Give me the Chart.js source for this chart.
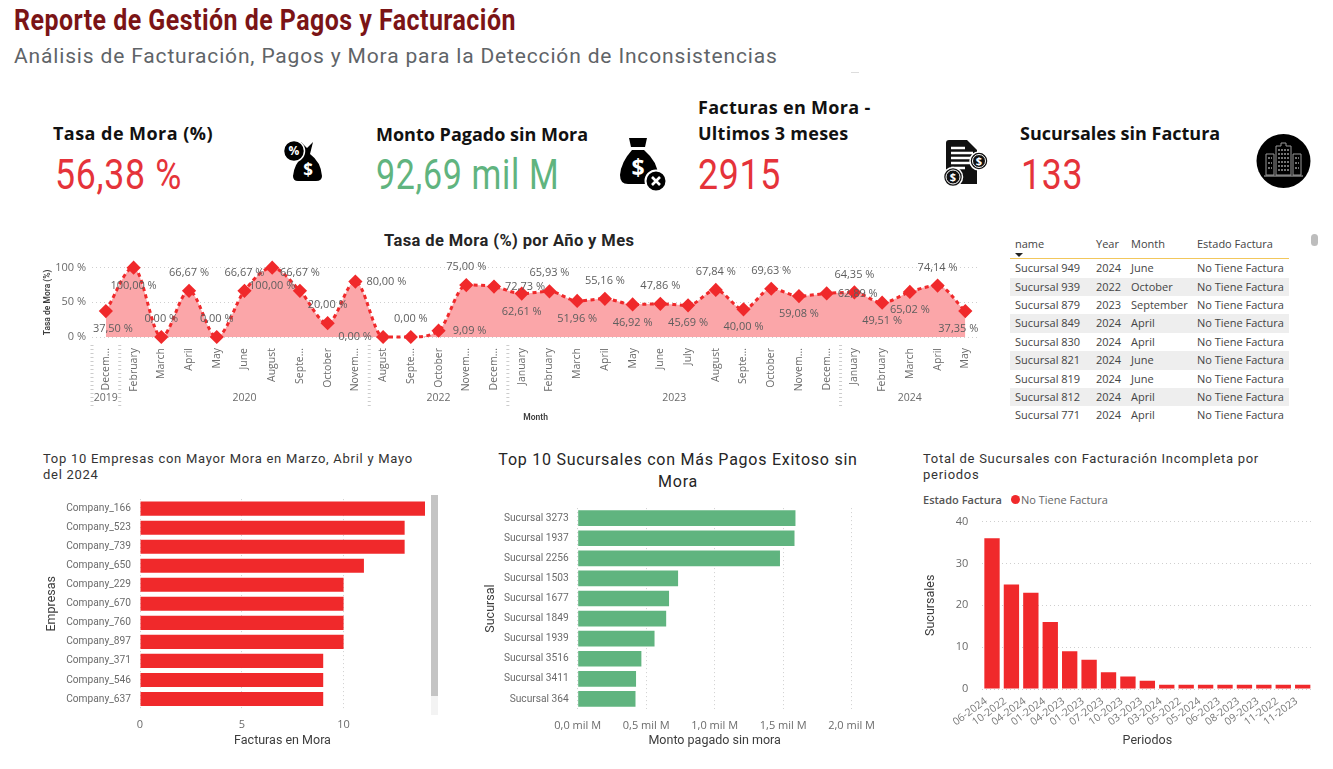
<!DOCTYPE html>
<html lang="es">
<head>
  <meta charset="UTF-8" />
  <title>Reporte de Gestión de Pagos y Facturación</title>
  <script src="https://cdn.jsdelivr.net/npm/chart.js"></script>
  <style>
    html, body { margin: 0; padding: 0; background: #fff; overflow: hidden; }
    body { width: 1333px; height: 769px; position: relative; font-family: "Open Sans", sans-serif; }
    .abs { position: absolute; white-space: nowrap; line-height: 1; }
    canvas { position: absolute; }
    #title { left: 14px; top: 3px; font: bold 29px Roboto, sans-serif; color: #7B1416; letter-spacing: .55px; transform: scaleX(.86); transform-origin: left; }
    #subtitle { left: 14px; top: 44px; font: 21px Roboto, sans-serif; color: #5f6468; letter-spacing: .84px; }
    .kpi-label { font-weight: 700; font-size: 18px; color: #111; }
    .kpi-value { font: 42px Roboto, sans-serif; letter-spacing: .8px; transform: scaleX(.85); transform-origin: left; }
    .chart-title { font: 13px Roboto, sans-serif; color: #333; letter-spacing: .72px; line-height: 16px; white-space: normal; }
    #table { position: absolute; left: 1010px; top: 235px; width: 279px; font-size: 11px; color: #444; }
    #table .row { position: absolute; left: 0; width: 279px; height: 18.4px; line-height: 18.4px; }
    #table .row span { position: absolute; top: 0; white-space: nowrap; }
    #table .shade { background: #eeeeee; }
  </style>
</head>
<body>
  <div class="abs" id="title">Reporte de Gestión de Pagos y Facturación</div>
  <div class="abs" id="subtitle">Análisis de Facturación, Pagos y Mora para la Detección de Inconsistencias</div>
  <div class="abs" style="left:851px;top:72px;width:8px;height:1px;background:#ddd"></div>

  <div class="abs kpi-label" style="left:53px;top:124px;letter-spacing:.45px">Tasa de Mora (%)</div>
  <div class="abs kpi-value" style="left:55px;top:150px;color:#E5333A">56,38 %</div>
  <div class="abs kpi-label" style="left:376px;top:125px">Monto Pagado sin Mora</div>
  <div class="abs kpi-value" style="left:376px;top:150px;color:#60B47F;transform:scaleX(.81)">92,69 mil M</div>
  <div class="abs kpi-label" style="left:698px;top:98px;letter-spacing:.3px">Facturas en Mora -</div>
  <div class="abs kpi-label" style="left:698px;top:124px;letter-spacing:.25px">Ultimos 3 meses</div>
  <div class="abs kpi-value" style="left:698px;top:150px;color:#E5333A">2915</div>
  <div class="abs kpi-label" style="left:1020px;top:124px">Sucursales sin Factura</div>
  <div class="abs kpi-value" style="left:1021px;top:150px;color:#E5333A">133</div>

  <!-- iconos -->
  <svg class="abs" style="left:283px;top:140px" width="40" height="42" viewBox="0 0 40 42">
    <path d="M18 2 L24 8 L30 2 L27 14 Q38 22 39 36 Q39 41 33 41 L15 41 Q10 41 10 36 Q11 24 21 15 Z" fill="#000"/>
    <circle cx="11" cy="11" r="10.5" fill="#000" stroke="#fff" stroke-width="1.5"/>
    <text x="11" y="15" font-size="12" font-weight="bold" fill="#fff" text-anchor="middle" font-family="Open Sans">%</text>
    <text x="25" y="36" font-size="17" font-weight="bold" fill="#fff" text-anchor="middle" font-family="Open Sans">$</text>
  </svg>
  <svg class="abs" style="left:620px;top:138px" width="48" height="54" viewBox="0 0 48 54">
    <path d="M9 0 H27 L25 9 H11 Z" fill="#000"/>
    <path d="M12 12 H24 Q38 24 38 38 Q38 46 28 46 H8 Q0 46 0 37 Q1 24 12 12 Z" fill="#000"/>
    <text x="18" y="38" font-size="23" font-weight="bold" fill="#fff" text-anchor="middle" font-family="Open Sans">$</text>
    <circle cx="36" cy="43" r="10.5" fill="#000" stroke="#fff" stroke-width="2"/>
    <path d="M32 39 L40 47 M40 39 L32 47" stroke="#fff" stroke-width="2.6"/>
  </svg>
  <svg class="abs" style="left:943px;top:140px" width="46" height="48" viewBox="0 0 46 48">
    <path d="M6 0 H24 L34 10 V44 H6 Q3 44 3 41 V3 Q3 0 6 0 Z" fill="#111"/>
    <path d="M8 8 H22 M8 13 H30 M8 18 H30 M8 23 H30 M8 28 H22 M8 33 H16" stroke="#fff" stroke-width="2.4"/>
    <circle cx="36" cy="21" r="9" fill="#111" stroke="#fff" stroke-width="1.5"/>
    <circle cx="36" cy="21" r="6.5" fill="none" stroke="#fff" stroke-width="1"/>
    <text x="36" y="25" font-size="11" font-weight="bold" fill="#fff" text-anchor="middle" font-family="Open Sans">$</text>
    <circle cx="10" cy="37" r="9.5" fill="#111" stroke="#fff" stroke-width="1.5"/>
    <circle cx="10" cy="37" r="7" fill="none" stroke="#fff" stroke-width="1"/>
    <text x="10" y="41" font-size="11" font-weight="bold" fill="#fff" text-anchor="middle" font-family="Open Sans">$</text>
  </svg>
  <svg class="abs" style="left:1256px;top:134px" width="55" height="54" viewBox="0 0 55 54">
    <ellipse cx="27.5" cy="27" rx="27" ry="27" fill="#000"/>
    <path d="M20 41 V12 H25 V9 H30 V12 H35 V41 Z M10 41 V20 H18 V41 Z M37 41 V20 H45 V41 Z" fill="none" stroke="#999" stroke-width="1"/>
    <path d="M22 16 H33 M22 20 H33 M22 24 H33 M22 28 H33 M22 32 H33 M22 36 H33 M12 24 H16 M12 29 H16 M12 34 H16 M39 24 H43 M39 29 H43 M39 34 H43" stroke="#999" stroke-width="1.4" stroke-dasharray="2 1"/>
    <path d="M8 42 H47" stroke="#bbb" stroke-width="1"/>
  </svg>

  <div class="abs" style="left:384px;top:231px;font:bold 16.5px Roboto,sans-serif;color:#252525;letter-spacing:.4px">Tasa de Mora (%) por Año y Mes</div>
  <canvas id="lineChart" style="left:40px;top:255px"></canvas>

  <div id="table"></div>
  <div class="abs" style="left:1311px;top:234px;width:7px;height:12px;border-radius:4px;background:#bdbdbd"></div>

  <div class="abs chart-title" style="left:43px;top:451px;width:380px">Top 10 Empresas con Mayor Mora en Marzo, Abril y Mayo del 2024</div>
  <canvas id="companyChart" style="left:40px;top:484px"></canvas>
  <div class="abs" style="left:431px;top:495px;width:7px;height:220px;background:#f3f3f3"></div>
  <div class="abs" style="left:431px;top:495px;width:7px;height:201px;background:#c4c4c4"></div>

  <div class="abs chart-title" style="left:492px;top:449px;width:372px;text-align:center;font-size:16px;line-height:22px;letter-spacing:.75px;color:#252525">Top 10 Sucursales con Más Pagos Exitoso sin Mora</div>
  <canvas id="branchChart" style="left:480px;top:493px"></canvas>

  <div class="abs chart-title" style="left:923px;top:451px;width:360px">Total de Sucursales con Facturación Incompleta por periodos</div>
  <div class="abs" style="left:923px;top:494px;font-size:11px;font-weight:600;color:#555">Estado Factura</div>
  <div class="abs" style="left:1010.5px;top:495px;width:9px;height:9px;border-radius:50%;background:#F0292B"></div>
  <div class="abs" style="left:1021px;top:494px;font-size:11px;color:#666">No Tiene Factura</div>
  <canvas id="periodChart" style="left:915px;top:501px"></canvas>

  <script>
    // tasa de mora por mes
    const moraMonths = ['Decem...', 'February', 'March', 'April', 'May', 'June', 'August', 'Septe...', 'October', 'Novem...',
      'August', 'Septe...', 'October', 'Novem...', 'Decem...',
      'January', 'February', 'March', 'April', 'May', 'June', 'July', 'August', 'Septe...', 'October', 'Novem...', 'Decem...',
      'January', 'February', 'March', 'April', 'May'];
    const moraValues = [37.50, 100, 0, 66.67, 0, 66.67, 100, 66.67, 20, 80,
      0, 0, 9.09, 75, 72.73,
      62.61, 65.93, 51.96, 55.16, 46.92, 47.86, 45.69, 67.84, 40, 69.63, 59.08, 62.89,
      64.35, 49.51, 65.02, 74.14, 37.35];
    const moraYears = ['2019', '2020', '2022', '2023', '2024'];
    const moraYearCounts = [1, 9, 5, 12, 5];
    // donde va cada etiqueta respecto al punto
    const moraLabelSides = ['bl', 'b', 'a', 'a', 'a', 'a', 'b', 'a', 'a', 'r',
      'l', 'a', 'r', 'a', 'r',
      'b', 'a', 'b', 'a', 'b', 'a', 'b', 'a', 'b', 'a', 'b', 'r',
      'a', 'b', 'b', 'a', 'bb'];

    const companyNames = ['Company_166', 'Company_523', 'Company_739', 'Company_650', 'Company_229', 'Company_670',
      'Company_760', 'Company_897', 'Company_371', 'Company_546', 'Company_637'];
    const companyValues = [14, 13, 13, 11, 10, 10, 10, 10, 9, 9, 9];

    const branchNames = ['Sucursal 3273', 'Sucursal 1937', 'Sucursal 2256', 'Sucursal 1503', 'Sucursal 1677',
      'Sucursal 1849', 'Sucursal 1939', 'Sucursal 3516', 'Sucursal 3411', 'Sucursal 364'];
    const branchValues = [1.59, 1.583, 1.477, 0.733, 0.667, 0.646, 0.561, 0.465, 0.426, 0.422];

    const periodNames = ['06-2024', '10-2022', '04-2024', '01-2024', '04-2023', '01-2023', '07-2023', '10-2023', '03-2023',
      '03-2024', '05-2022', '05-2024', '06-2023', '08-2023', '09-2023', '11-2022', '11-2023'];
    const periodValues = [36, 25, 23, 16, 9, 7, 4, 3, 2, 1, 1, 1, 1, 1, 1, 1, 1];

    const tableHeaders = ['name', 'Year', 'Month', 'Estado Factura'];
    const tableNames = ['Sucursal 949', 'Sucursal 939', 'Sucursal 879', 'Sucursal 849', 'Sucursal 830', 'Sucursal 821', 'Sucursal 819', 'Sucursal 812', 'Sucursal 771'];
    const tableYears = ['2024', '2022', '2023', '2024', '2024', '2024', '2024', '2024', '2024'];
    const tableMonths = ['June', 'October', 'September', 'April', 'April', 'June', 'June', 'April', 'April'];
    const tableStates = ['No Tiene Factura', 'No Tiene Factura', 'No Tiene Factura', 'No Tiene Factura', 'No Tiene Factura', 'No Tiene Factura', 'No Tiene Factura', 'No Tiene Factura', 'No Tiene Factura'];

    const RED = '#F0292B';
    const GREEN = '#60B47F';
    const TICK = '#6b6b6b';
    const AXIS_TITLE = '#3d3d3d';
    const GRID = '#cfcfcf';

    Chart.defaults.font.family = '"Open Sans", sans-serif';
    Chart.defaults.animation = false;
    Chart.defaults.responsive = false;
    Chart.defaults.plugins.legend.display = false;
    Chart.defaults.plugins.tooltip.enabled = false;

    function setSize(id, w, h) {
      const c = document.getElementById(id);
      c.width = w;
      c.height = h;
      c.style.width = w + 'px';
      c.style.height = h + 'px';
      return c;
    }

    function axisTitle(text, size, padding, weight) {
      return { display: true, text, color: AXIS_TITLE, padding, font: { size, weight: weight || 'normal', family: 'Roboto, sans-serif' } };
    }

    // etiquetas de datos del grafico de linea
    const moraLabels = {
      id: 'moraLabels',
      afterDatasetsDraw(chart) {
        const ctx = chart.ctx;
        ctx.save();
        ctx.font = '11px "Open Sans", sans-serif';
        ctx.fillStyle = '#5e5e5e';
        ctx.textAlign = 'center';
        ctx.textBaseline = 'middle';
        chart.getDatasetMeta(0).data.forEach((pt, i) => {
          const side = moraLabelSides[i];
          let dx = 0, dy = 0;
          if (side === 'a') dy = -18;
          if (side === 'b') dy = 18;
          if (side === 'bl') { dx = 7; dy = 18; }
          if (side === 'bb') { dx = -7; dy = 18; }
          if (side === 'r') dx = 31;
          if (side === 'l') dx = -28;
          ctx.fillText(moraValues[i].toFixed(2).replace('.', ',') + ' %', pt.x + dx, pt.y + dy);
        });
        ctx.restore();
      }
    };

    // segundo nivel del eje x: anos y separadores punteados
    const moraYearAxis = {
      id: 'moraYearAxis',
      afterDraw(chart) {
        const ctx = chart.ctx;
        const scale = chart.scales.x;
        const step = scale.getPixelForValue(1) - scale.getPixelForValue(0);
        const drawEdge = edge => {
          const x = scale.getPixelForValue(0) + (edge * step);
          ctx.beginPath();
          ctx.moveTo(x, 345 - 255);
          ctx.lineTo(x, 407 - 255);
          ctx.stroke();
        };
        ctx.save();
        ctx.font = '10.5px "Open Sans", sans-serif';
        ctx.fillStyle = '#6b6b6b';
        ctx.textAlign = 'center';
        ctx.textBaseline = 'middle';
        ctx.strokeStyle = '#cccccc';
        ctx.setLineDash([1, 3]);
        let start = 0;
        drawEdge(-0.5);
        moraYears.forEach((year, i) => {
          const end = start + moraYearCounts[i] - 1;
          const mid = (scale.getPixelForValue(start) + scale.getPixelForValue(end)) / 2;
          ctx.fillText(year, mid, 398 - 255);
          if (i < moraYears.length - 1) drawEdge(end + 0.5);
          start = end + 1;
        });
        ctx.restore();
      }
    };

    function renderLineChart() {
      new Chart(setSize('lineChart', 949, 171), {
        type: 'line',
        data: {
          labels: moraMonths,
          datasets: [{
            data: moraValues,
            borderColor: RED,
            borderWidth: 3,
            borderDash: [4, 3.5],
            backgroundColor: '#FBA6A9',
            fill: 'origin',
            cubicInterpolationMode: 'monotone',
            pointStyle: 'rectRot',
            pointRadius: 5,
            pointBackgroundColor: RED,
            pointBorderColor: RED,
            clip: false
          }]
        },
        options: {
          layout: { autoPadding: false, padding: { top: 12.7, right: 6, left: 0, bottom: 0 } },
          scales: {
            x: {
              offset: true,
              afterFit: s => { s.height = 89; },
              grid: { display: false, drawTicks: false },
              border: { display: false },
              ticks: { color: TICK, font: { size: 10.5 }, minRotation: 90, maxRotation: 90, padding: 11, autoSkip: false },
              title: axisTitle('Month', 8.5, { top: 0, bottom: 3 }, '600')
            },
            y: {
              min: 0,
              max: 100,
              afterFit: s => { s.width = 52; },
              grid: { color: GRID, drawTicks: false },
              border: { display: false, dash: [1, 3] },
              ticks: { stepSize: 50, color: TICK, font: { size: 11 }, padding: 6, callback: v => v + ' %' },
              title: axisTitle('Tasa de Mora (%)', 8.5, { top: 3, bottom: 0 }, '600')
            }
          }
        },
        plugins: [moraLabels, moraYearAxis]
      });
    }

    function renderHBar(id, w, h, labels, data, color, cfg) {
      new Chart(setSize(id, w, h), {
        type: 'bar',
        data: { labels, datasets: [{ data, backgroundColor: color, barPercentage: cfg.barPercentage, categoryPercentage: 1 }] },
        options: {
          indexAxis: 'y',
          layout: { autoPadding: false, padding: cfg.padding },
          scales: {
            x: {
              min: 0,
              max: cfg.max,
              afterFit: s => { s.height = cfg.xHeight; },
              afterBuildTicks: s => { s.ticks = s.ticks.filter(t => Math.abs(t.value / cfg.step - Math.round(t.value / cfg.step)) < 1e-6); },
              grid: { color: GRID, drawTicks: false },
              border: { display: false, dash: [1, 3] },
              ticks: { stepSize: cfg.step, color: TICK, font: { size: 11 }, padding: 10, callback: cfg.format, maxRotation: 0 },
              title: axisTitle(cfg.xTitle, 12.5, { top: 0, bottom: 12 })
            },
            y: {
              afterFit: s => { s.width = cfg.yWidth; },
              grid: { display: false, drawTicks: false },
              border: { display: false },
              ticks: { color: TICK, font: { size: 10.2, family: 'Roboto, sans-serif' }, padding: 9, autoSkip: false },
              title: axisTitle(cfg.yTitle, 12.5, { top: cfg.yTitlePad, bottom: 0 })
            }
          }
        }
      });
    }

    function renderPeriodChart() {
      new Chart(setSize('periodChart', 410, 259), {
        type: 'bar',
        data: { labels: periodNames, datasets: [{ data: periodValues, backgroundColor: RED, barPercentage: 0.79, categoryPercentage: 1 }] },
        options: {
          layout: { autoPadding: false, padding: { top: 0, right: 12.6, left: 0, bottom: 0 } },
          scales: {
            x: {
              afterFit: s => { s.height = 71; },
              grid: { display: false, drawTicks: false },
              border: { display: false },
              ticks: { color: '#777', font: { size: 10.5 }, minRotation: 36, maxRotation: 36, padding: 6, labelOffset: -6, autoSkip: false },
              title: axisTitle('Periodos', 12.5, { top: 0, bottom: 12 })
            },
            y: {
              min: 0,
              max: 40,
              afterFit: s => { s.width = 67.3; },
              grid: { color: GRID, drawTicks: false },
              border: { display: false, dash: [1, 3] },
              ticks: { stepSize: 10, color: TICK, font: { size: 11 }, padding: 14 },
              title: axisTitle('Sucursales', 12.5, { top: 8, bottom: 0 })
            }
          }
        }
      });
    }

    function renderTable() {
      const table = document.getElementById('table');
      const cols = [5, 86, 121, 187];
      const head = document.createElement('div');
      head.className = 'row';
      head.style.top = '0px';
      tableHeaders.forEach((h, i) => {
        const s = document.createElement('span');
        s.textContent = h;
        s.style.left = cols[i] + 'px';
        head.appendChild(s);
      });
      table.appendChild(head);

      const arrow = document.createElement('div');
      arrow.style.cssText = 'position:absolute;left:5px;top:18px;width:0;height:0;border-left:4px solid transparent;border-right:4px solid transparent;border-top:4px solid #222';
      table.appendChild(arrow);
      const rule = document.createElement('div');
      rule.style.cssText = 'position:absolute;left:0;top:23px;width:279px;height:1px;background:#F2C75C';
      table.appendChild(rule);

      tableNames.forEach((name, r) => {
        const row = document.createElement('div');
        row.className = r % 2 ? 'row shade' : 'row';
        row.style.top = (24.2 + r * 18.4) + 'px';
        [name, tableYears[r], tableMonths[r], tableStates[r]].forEach((text, i) => {
          const s = document.createElement('span');
          s.textContent = text;
          s.style.left = cols[i] + 'px';
          row.appendChild(s);
        });
        table.appendChild(row);
      });
    }

    renderLineChart();
    renderHBar('companyChart', 390, 276, companyNames, companyValues, RED, {
      barPercentage: 0.74, max: 14, step: 5, xHeight: 51.5, yWidth: 100, yTitlePad: 4,
      padding: { top: 0, right: 5, left: 0, bottom: 0 },
      xTitle: 'Facturas en Mora', yTitle: 'Empresas', format: v => v
    });
    renderHBar('branchChart', 405, 267, branchNames, branchValues, GREEN, {
      barPercentage: 0.78, max: 2, step: 0.5, xHeight: 51, yWidth: 97.7, yTitlePad: 3,
      padding: { top: 0, right: 28.7, left: 0, bottom: 0 },
      xTitle: 'Monto pagado sin mora', yTitle: 'Sucursal', format: v => v.toFixed(1).replace('.', ',') + ' mil M'
    });
    renderPeriodChart();
    renderTable();
  </script>
</body>
</html>
